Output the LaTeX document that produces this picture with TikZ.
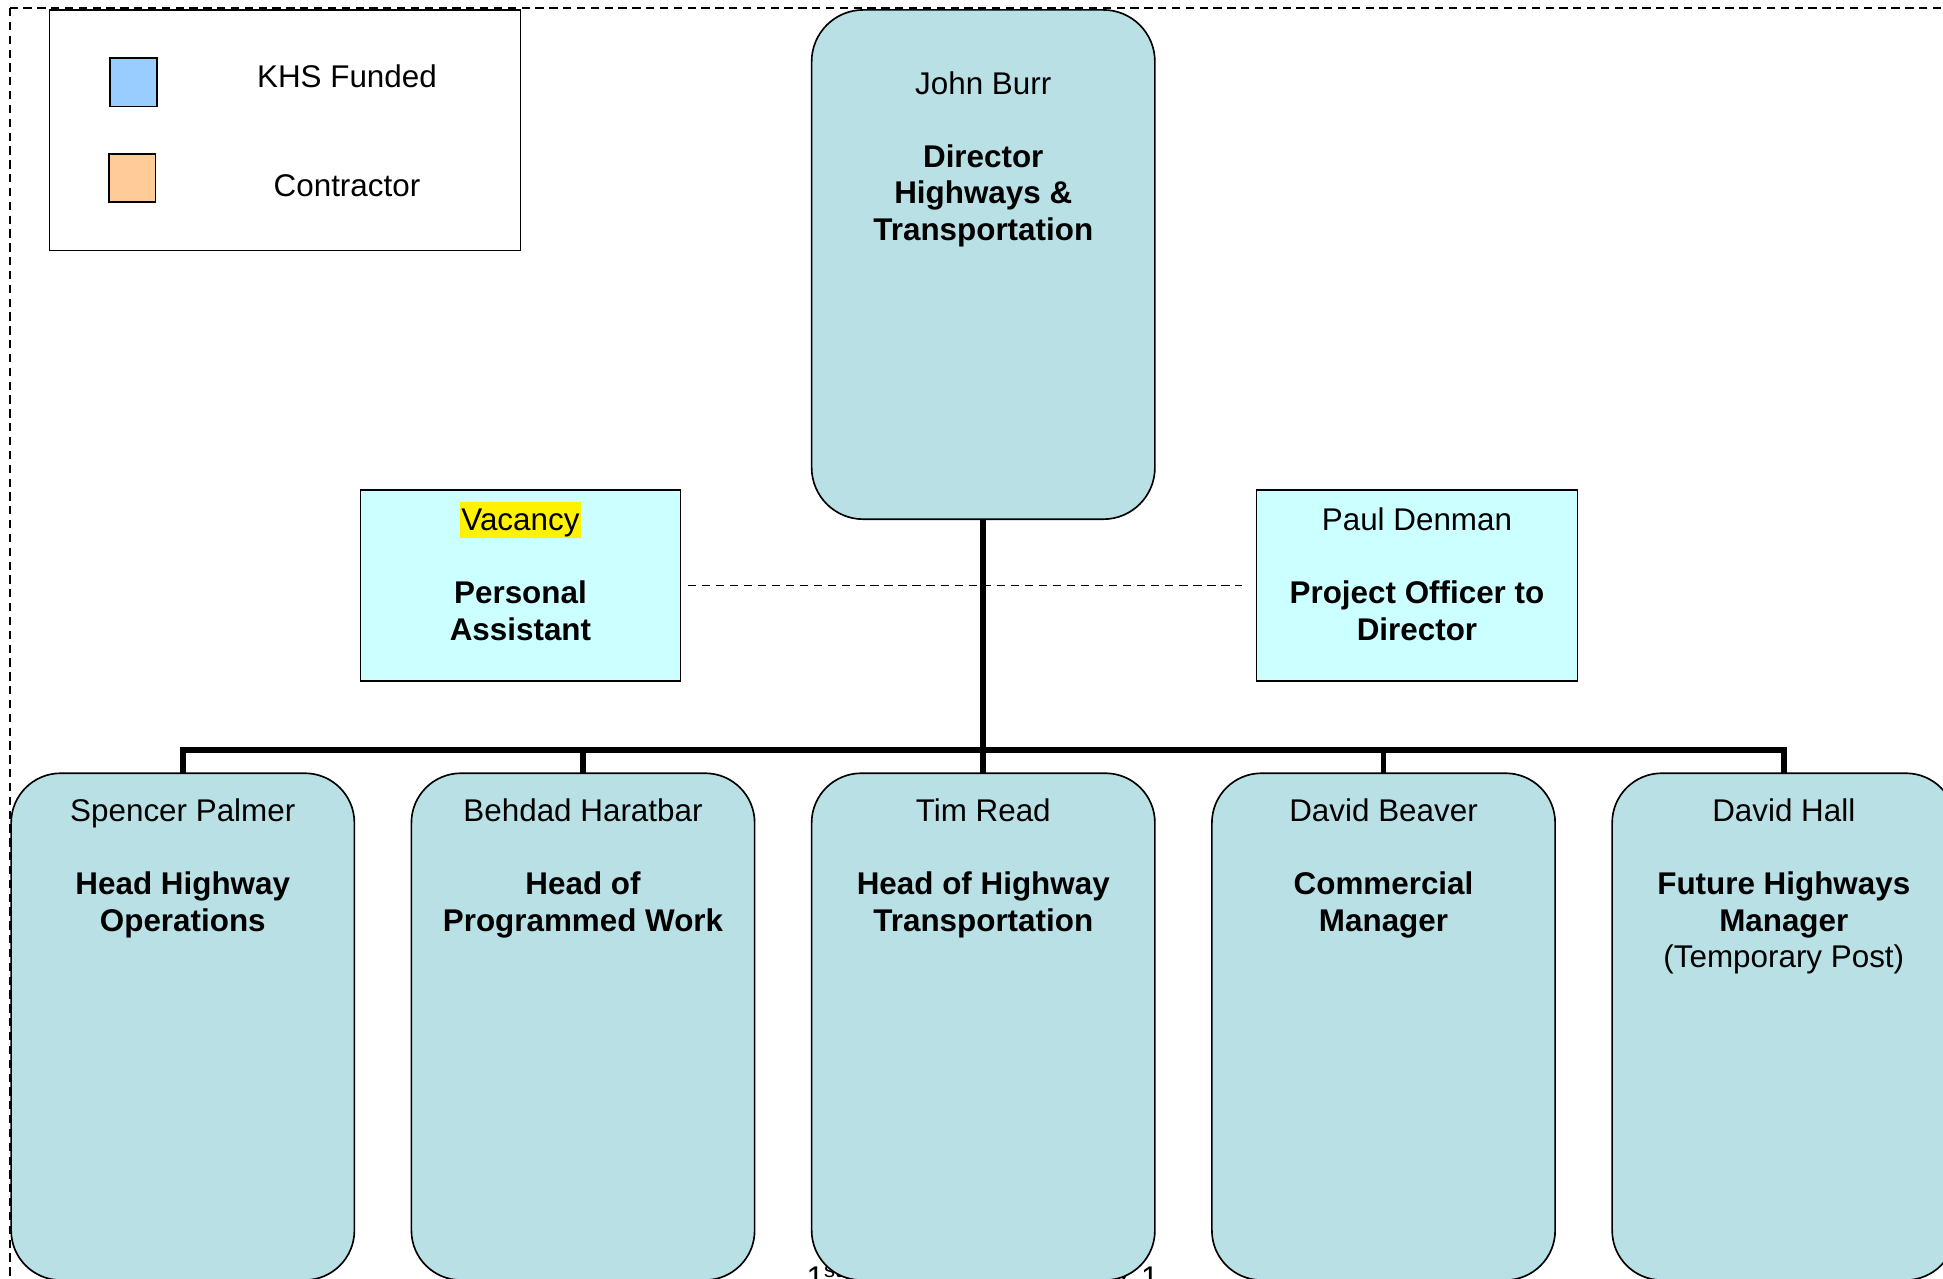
\documentclass[tikz,border=0pt]{standalone}
\usepackage{fontspec}
\setmainfont{Liberation Sans}
\definecolor{boxteal}{RGB}{185,224,228}
\definecolor{pacyan}{RGB}{204,255,255}
\definecolor{khsblue}{RGB}{153,204,255}
\definecolor{contr}{RGB}{255,204,153}
\newcommand\fsz{\fontsize{15.2pt}{17.7pt}\selectfont}
\begin{document}
\begin{tikzpicture}[x=0.6pt,y=-0.6pt,
  rbox/.style={draw=black, line width=0.8pt, fill=boxteal, rounded corners=24pt,
    minimum width=166.2pt, minimum height=245.4pt, inner sep=0pt, outer sep=0pt, anchor=north west},
  sbox/.style={draw=black, line width=0.7pt, fill=pacyan, minimum height=92.4pt,
    inner sep=0pt, outer sep=0pt, anchor=north west},
  legbox/.style={draw=black, line width=0.7pt, fill=white, minimum width=228pt,
    minimum height=116.4pt, inner sep=0pt, outer sep=0pt, anchor=north west},
  swatch/.style={draw=black, line width=0.9pt, minimum width=22.5pt, minimum height=23.4pt,
    inner sep=0pt, outer sep=0pt, anchor=north west},
  txt/.style={font=\fsz, inner sep=0pt, outer sep=0pt, anchor=base},
  busline/.style={line width=2.8pt, line join=miter},
  dashline/.style={draw=black, line width=0.85pt, dash pattern=on 4pt off 2.8pt},
  outerdash/.style={draw=black, line width=1pt, dash pattern=on 4pt off 2.7pt}]
\useasboundingbox (0,0) rectangle (1568,1032);
\clip (0,0) rectangle (1568,1032);

% outer dashed frame
\draw[outerdash] (8,6.5) rectangle (1620,1100);

% legend
\node[legbox] (leg) at (40,8) {};
\node[swatch, fill=khsblue] (sq1) at (89,47) {};
\node[swatch, fill=contr] (sq2) at (88,124) {};
\node[txt] (khs) at (280,70.5) {KHS Funded};
\node[txt] (con) at (280,158.7) {Contractor};

% footer text (mostly hidden behind the middle box)
\node[txt, anchor=base west] (foot) at (651,1040) {\hbox to 170.4pt{1\textsuperscript{st}\hfill 7 1}};

% director
\node[rbox, minimum height=246.6pt, rounded corners=25pt] (dir) at (655,8) {};
\node[txt] (dirT) at (793.5,76) {\parbox[t]{200pt}{\centering John Burr\\[17.7pt]\bfseries Director\\Highways \&\\Transportation}};

% side boxes
\node[sbox, minimum width=154.8pt] (pa) at (291,395.5) {};
\node[txt] (paT) at (420,428) {\parbox[t]{150pt}{\centering\setlength\fboxsep{0.6pt}\colorbox{yellow}{\rule[-2.4pt]{0pt}{15.6pt}Vacancy}\\[17.7pt]\bfseries Personal\\Assistant}};
\node[sbox, minimum width=155.4pt] (po) at (1014,395.5) {};
\node[txt] (poT) at (1143.5,428) {\parbox[t]{150pt}{\centering Paul Denman\\[17.7pt]\bfseries Project Officer to\\Director}};

% bottom row
\node[rbox] (b1) at (9,624) {};
\node[rbox] (b2) at (332,624) {};
\node[rbox] (b3) at (655,624) {};
\node[rbox] (b4) at (978,624) {};
\node[rbox] (b5) at (1301,624) {};
\node[txt] (b1T) at (147.5,663) {\parbox[t]{165pt}{\centering Spencer Palmer\\[17.7pt]\bfseries Head Highway\\Operations}};
\node[txt] (b2T) at (470.5,663) {\parbox[t]{165pt}{\centering Behdad Haratbar\\[17.7pt]\bfseries Head of\\Programmed Work}};
\node[txt] (b3T) at (793.5,663) {\parbox[t]{165pt}{\centering Tim Read\\[17.7pt]\bfseries Head of Highway\\Transportation}};
\node[txt] (b4T) at (1116.5,663) {\parbox[t]{165pt}{\centering David Beaver\\[17.7pt]\bfseries Commercial\\Manager}};
\node[txt] (b5T) at (1439.5,663) {\parbox[t]{165pt}{\centering David Hall\\[17.7pt]{\bfseries Future Highways\\Manager}\\(Temporary Post)}};

% connectors
\coordinate (bus) at (793.5,605.5);
\draw[dashline, shorten <=3.6pt, shorten >=7.2pt] (pa.east) -- (po.west);
\draw[busline] (dir.south) -- (dir.south |- bus);
\draw[busline] (b1.north) |- (bus) -| (b5.north);
\draw[busline] (b2.north) -- (b2.north |- bus);
\draw[busline] (b3.north) -- (b3.north |- bus);
\draw[busline] (b4.north) -- (b4.north |- bus);
\end{tikzpicture}
\end{document}
